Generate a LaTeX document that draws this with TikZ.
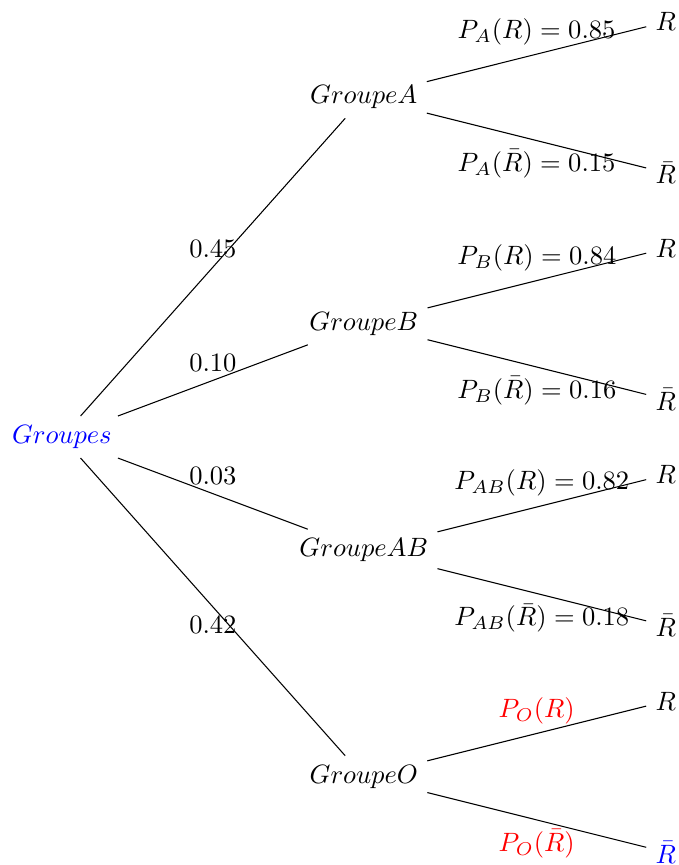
\documentclass[tikz,border=0pt]{standalone}
\usetikzlibrary{calc}

\begin{document}
\begin{tikzpicture}[line/.style={black}, odd/.style={red}]
\useasboundingbox (-0.82,-5.67) rectangle (8.17,5.79);

\node (G) at (0, 0) [text=blue] {$Groupes$};

\node (A) at (4, 4.5) {$GroupeA$};
\node (B) at (4, 1.5) {$GroupeB$};
\node (AB) at (4, -1.5) {$GroupeAB$};
\node (O) at (4, -4.5) {$GroupeO$};

\node (RA) at (8, 5.5) {$R$};
\node (RbA) at (8, 3.5) {$\bar{R}$};
\node (RB) at (8, 2.5) {$R$};
\node (RbB) at (8, 0.5) {$\bar{R}$};
\node (RAB) at (8, -0.5) {$R$};
\node (RbAB) at (8, -2.5) {$\bar{R}$};
\node (RO) at (8, -3.5) {$R$};
\node (RbO) at (8, -5.5) [text=blue] {$\bar{R}$};

%\draw[step=10pt, color=black!10] (-1, -6) grid (8, 6);
\draw[line] (G) -- node [above] {$0.45$} (A);
\draw[line] (G) -- node [above] {$0.10$} (B);
\draw[line] (G) -- node [above] {$0.03$} (AB);
\draw[line] (G) -- node [below] {$0.42$} (O);

\draw[line] (A) -- node [above] {$P_A(R) = 0.85$} (RA);
\draw[line] (A) -- node [below] {$P_A(\bar{R}) = 0.15$} (RbA);
\draw[line] (B) -- node [above] {$P_B(R) = 0.84$} (RB);
\draw[line] (B) -- node [below] {$P_B(\bar{R}) = 0.16$} (RbB);
\draw[line] (AB) -- node [above] {$P_{AB}(R) = 0.82$} (RAB);
\draw[line] (AB) -- node [below] {$P_{AB}(\bar{R}) = 0.18$} (RbAB);
\draw[line] (O) -- node [above, odd] {$P_O(R)$} (RO);
\draw[line] (O) -- node [below, odd] {$P_O(\bar{R})$} (RbO);

\end{tikzpicture}
\end{document}
